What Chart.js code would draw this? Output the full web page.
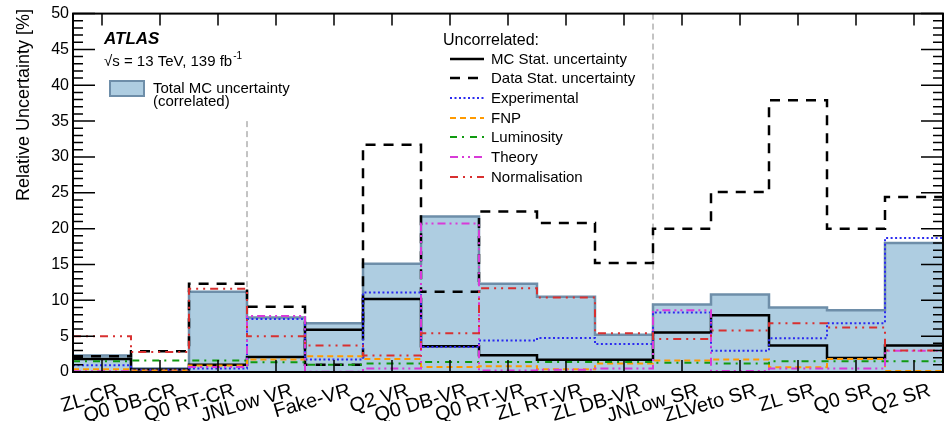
<!DOCTYPE html>
<html>
<head>
<meta charset="utf-8">
<script src="https://cdn.jsdelivr.net/npm/chart.js@4.4.1/dist/chart.umd.min.js"></script>
<style>
  html, body { margin: 0; padding: 0; background: #fff; }
  #wrap { width: 947px; height: 421px; }
</style>
</head>
<body>
<div id="wrap"><canvas id="uncChart"></canvas></div>
<script>
// regions (bins)
const regions = ["ZL-CR", "Q0 DB-CR", "Q0 RT-CR", "JNLow VR", "Fake-VR", "Q2 VR", "Q0 DB-VR", "Q0 RT-VR",
                 "ZL RT-VR", "ZL DB-VR", "JNLow SR", "ZLVeto SR", "ZL SR", "Q0 SR", "Q2 SR"];

// relative uncertainties in %
const totalMC   = [2.3, 0.5, 11.2, 7.6, 6.8, 15.1, 21.7, 12.3, 10.5, 5.2, 9.4, 10.8, 9.0, 8.6, 18.0];
const mcStat    = [1.8, 0.35, 1.0, 2.1, 5.9, 10.2, 3.6, 2.35, 1.7, 1.7, 5.5, 7.9, 3.7, 1.95, 3.7];
const dataStat  = [2.2, 2.9, 12.3, 9.1, 1.0, 31.7, 11.2, 22.4, 20.8, 15.2, 20.0, 25.1, 37.9, 20.0, 24.4];
const experim   = [0.95, 0.3, 0.5, 7.4, 1.75, 11.1, 3.5, 4.4, 4.75, 3.9, 8.3, 2.95, 4.7, 6.8, 18.7];
const fnp       = [0.4, 0.2, 0.9, 1.75, 2.2, 1.8, 0.7, 0.8, 0.4, 1.2, 1.6, 1.75, 0.65, 1.8, 0.15];
const lumi      = [1.5, 1.6, 1.6, 1.35, 1.0, 1.2, 1.4, 1.4, 1.4, 1.4, 1.3, 1.2, 1.5, 1.5, 1.5];
const theory    = [0.1, 0.05, 0.7, 7.8, 0.05, 0.5, 20.7, 0.2, 0.3, 0.5, 8.6, 0.15, 0.5, 0.5, 2.95];
const normal    = [5.0, 2.8, 11.6, 5.0, 3.7, 2.3, 5.4, 11.7, 10.4, 5.4, 4.6, 5.8, 6.8, 6.2, 3.0];

const yTicks = [0, 5, 10, 15, 20, 25, 30, 35, 40, 45, 50];
const dividers = [3, 10];   // bin edges between CR / VR / SR

const FONT = "'Liberation Sans', Arial, Helvetica, sans-serif";
const fillBlue = "#aecde1";
const edgeBlue = "#6e8ea9";

// bin contents -> step points on the bin edges
function steps(vals) {
    var pts = [];
    for (var i = 0; i < vals.length; i++) {
        pts.push({ x: i, y: vals[i] });
    }
    pts.push({ x: vals.length, y: vals[vals.length - 1] });
    return pts;
}

const lineSeries = [
    { label: "MC Stat. uncertainty",   data: mcStat,   color: "#000000", width: 2.5, dash: [] },
    { label: "Data Stat. uncertainty", data: dataStat, color: "#000000", width: 2.5, dash: [10, 8] },
    { label: "Experimental",           data: experim,  color: "#2b2bf0", width: 2,   dash: [2, 2.5] },
    { label: "FNP",                    data: fnp,      color: "#ff9a00", width: 2,   dash: [6, 4] },
    { label: "Luminosity",             data: lumi,     color: "#109a10", width: 2,   dash: [7, 5, 2, 6] },
    { label: "Theory",                 data: theory,   color: "#d83ad8", width: 2,   dash: [8, 4, 2, 4, 2, 4] },
    { label: "Normalisation",          data: normal,   color: "#d83030", width: 2,   dash: [8, 5, 2, 5, 2, 5] }
];

var datasets = [{
    label: "Total MC uncertainty",
    data: steps(totalMC),
    stepped: "before",
    fill: "origin",
    backgroundColor: fillBlue,
    borderColor: edgeBlue,
    borderWidth: 2.5,
    pointRadius: 0,
    order: 20
}];

lineSeries.forEach(function (s, k) {
    datasets.push({
        label: s.label,
        data: steps(s.data),
        stepped: "before",
        fill: false,
        borderColor: s.color,
        borderWidth: s.width,
        borderDash: s.dash,
        pointRadius: 0,
        order: 10 - k
    });
});

// dashed region separators, below the histograms
const dividerPlugin = {
    id: "dividers",
    beforeDatasetsDraw(chart) {
        const ctx = chart.ctx, x = chart.scales.x, y = chart.scales.y;
        ctx.save();
        ctx.strokeStyle = "#888";
        ctx.lineWidth = 1;
        ctx.setLineDash([6, 4]);
        dividers.forEach(function (d, k) {
            var px = x.getPixelForValue(d);
            ctx.beginPath();
            ctx.moveTo(px, y.getPixelForValue(k === 0 ? 35 : 50));
            ctx.lineTo(px, y.getPixelForValue(0));
            ctx.stroke();
        });
        ctx.restore();
    }
};

// ROOT-like frame, inward ticks, labels and legends
const decorPlugin = {
    id: "decor",
    afterDatasetsDraw(chart) {
        const ctx = chart.ctx, a = chart.chartArea, x = chart.scales.x, y = chart.scales.y;
        ctx.save();
        ctx.strokeStyle = "#000";
        ctx.lineWidth = 1.5;
        ctx.setLineDash([]);
        ctx.beginPath();
        for (var v = 0; v <= 50; v++) {
            var len = v % 5 === 0 ? 22 : 10;
            var py = y.getPixelForValue(v);
            ctx.moveTo(a.left, py); ctx.lineTo(a.left + len, py);
            ctx.moveTo(a.right, py); ctx.lineTo(a.right - len, py);
        }
        for (var i = 0; i < regions.length; i++) {
            var px = x.getPixelForValue(i + 0.5);
            ctx.moveTo(px, a.bottom); ctx.lineTo(px, a.bottom - 12);
            ctx.moveTo(px, a.top); ctx.lineTo(px, a.top + 12);
        }
        ctx.stroke();
        ctx.lineWidth = 2;
        ctx.strokeRect(a.left, a.top, a.right - a.left, a.bottom - a.top);

        // y title, right-aligned to the top
        ctx.fillStyle = "#000";
        ctx.save();
        ctx.translate(24, 9);
        ctx.rotate(-Math.PI / 2);
        ctx.font = "18px " + FONT;
        ctx.textAlign = "right";
        ctx.textBaseline = "middle";
        ctx.fillText("Relative Uncertainty [%]", 0, 0);
        ctx.restore();

        // ATLAS label
        ctx.textAlign = "left";
        ctx.textBaseline = "alphabetic";
        ctx.font = "italic bold 17px " + FONT;
        ctx.fillText("ATLAS", 104, 44);
        ctx.font = "15px " + FONT;
        var s1 = "\u221As = 13 TeV, 139 fb";
        ctx.fillText(s1, 104, 66);
        var w1 = ctx.measureText(s1).width;
        ctx.font = "10px " + FONT;
        ctx.fillText("-1", 104 + w1 + 1, 59);

        // total MC legend
        ctx.fillStyle = fillBlue;
        ctx.fillRect(110, 81, 34, 15);
        ctx.strokeStyle = edgeBlue;
        ctx.lineWidth = 2;
        ctx.strokeRect(110, 81, 34, 15);
        ctx.fillStyle = "#000";
        ctx.font = "15px " + FONT;
        ctx.fillText("Total MC uncertainty", 153, 93);
        ctx.fillText("(correlated)", 153, 106);

        // uncorrelated legend
        ctx.font = "16px " + FONT;
        ctx.fillText("Uncorrelated:", 443, 45);
        ctx.font = "15px " + FONT;
        ctx.textBaseline = "middle";
        var ys = [59, 78, 98, 118, 137, 157, 177];
        lineSeries.forEach(function (s, k) {
            ctx.strokeStyle = s.color;
            ctx.lineWidth = s.width;
            ctx.setLineDash(s.dash);
            ctx.beginPath();
            ctx.moveTo(450, ys[k]);
            ctx.lineTo(484, ys[k]);
            ctx.stroke();
            ctx.fillStyle = "#000";
            ctx.fillText(s.label, 491, ys[k] + 1);
        });
        ctx.restore();
    }
};

new Chart(document.getElementById("uncChart"), {
    type: "line",
    data: { datasets: datasets },
    options: {
        responsive: true,
        maintainAspectRatio: false,
        animation: false,
        layout: { padding: { top: 9, right: 4, left: 0, bottom: 0 } },
        plugins: { legend: { display: false }, tooltip: { enabled: false } },
        scales: {
            x: {
                type: "linear",
                min: 0,
                max: regions.length,
                afterBuildTicks: function (s) {
                    s.ticks = regions.map(function (r, i) { return { value: i + 0.5 }; });
                },
                afterFit: function (s) { s.height = 49; },
                grid: { display: false, drawTicks: false },
                border: { display: false },
                ticks: {
                    autoSkip: false,
                    maxRotation: 16,
                    minRotation: 16,
                    padding: 7,
                    labelOffset: 16,
                    color: "#000",
                    font: { family: FONT, size: 20 },
                    callback: function (v) { return regions[Math.round(v - 0.5)]; }
                }
            },
            y: {
                min: 0,
                max: 50,
                afterBuildTicks: function (s) {
                    s.ticks = yTicks.map(function (t) { return { value: t }; });
                },
                afterFit: function (s) { s.width = 73; },
                grid: { display: false, drawTicks: false },
                border: { display: false },
                ticks: {
                    padding: 4,
                    color: "#000",
                    font: { family: FONT, size: 16 }
                }
            }
        }
    },
    plugins: [dividerPlugin, decorPlugin]
});
</script>
</body>
</html>
